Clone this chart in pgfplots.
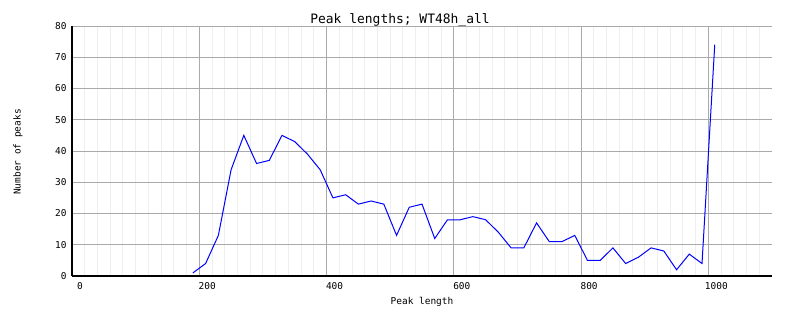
\documentclass[border=0pt]{standalone}
\usepackage{fontspec}
\setmonofont{DejaVu Sans Mono}
\usepackage{pgfplots}
\pgfplotsset{compat=1.18}
\definecolor{majgrid}{HTML}{AAAAAA}
\definecolor{mingrid}{HTML}{EEEEEE}
\begin{document}
\begin{tikzpicture}[x=1bp,y=1bp]
\useasboundingbox (0,0) rectangle (802,328);
\begin{axis}[
  at={(72bp,52bp)}, anchor=south west,
  scale only axis, width=700bp, height=250bp,
  xmin=0, xmax=1100, ymin=0, ymax=80,
  xtick={0,200,...,1000}, ytick={0,10,...,80},
  minor xtick={20,40,...,1080},
  grid=both,
  major grid style={draw=majgrid, line width=1bp},
  minor grid style={draw=mingrid, line width=1bp},
  axis x line*=bottom, axis y line*=left,
  x axis line style={black, line width=1.6bp, -},
  y axis line style={black, line width=1.1bp, -},
  major tick length=0pt, minor tick length=0pt,
  tick label style={font=\fontsize{9.5}{11}\selectfont\ttfamily},
  /pgf/number format/assume math mode=true,
  /pgf/number format/1000 sep={},
  xticklabel style={xshift=8bp, yshift=-3bp},
  yticklabel style={xshift=-2bp},
]
\addplot[color=blue, line width=1bp, mark=none] coordinates {
(190,1) (210,4) (230,13) (250,34) (270,45) (290,36) (310,37) (330,45)
(350,43) (370,39) (390,34) (410,25) (430,26) (450,23) (470,24) (490,23)
(510,13) (530,22) (550,23) (570,12) (590,18) (610,18) (630,19) (650,18)
(670,14) (690,9) (710,9) (730,17) (750,11) (770,11) (790,13) (810,5)
(830,5) (850,9) (870,4) (890,6) (910,9) (930,8) (950,2) (970,7)
(990,4) (1010,74)
};
\end{axis}
\node[font=\fontsize{13}{15}\selectfont\ttfamily, anchor=base] at (400,305) {Peak lengths; WT48h\_all};
\node[font=\fontsize{9.5}{11}\selectfont\ttfamily] at (422,26) {Peak length};
\node[font=\fontsize{9.5}{11}\selectfont\ttfamily, rotate=90] at (18,176) {Number of peaks};
\end{tikzpicture}
\end{document}
